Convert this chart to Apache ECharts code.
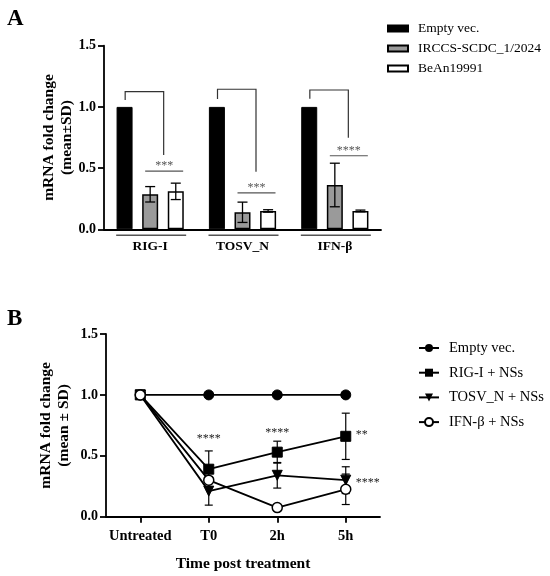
<!DOCTYPE html>
<html><head><meta charset="utf-8">
<script src="https://cdn.jsdelivr.net/npm/echarts@6/dist/echarts.min.js"></script>
<style>html,body{margin:0;padding:0;background:#fff}#c{width:550px;height:576px}</style>
</head><body><div id="c"></div>
<script>
// ---------- Panel A data ----------
const catsA = ['RIG-I', 'TOSV_N', 'IFN-β'];
const namesA = ['Empty vec.', 'IRCCS-SCDC_1/2024', 'BeAn19991'];
const emptyA = [1, 1, 1];
const irccsA = [0.286, 0.139, 0.362];
const irccsSD = [0.063, 0.083, 0.178];
const beanA = [0.31, 0.15, 0.15];
const beanSD = [0.067, 0.01, 0.007];
const bracketTop = [1.124, 1.144, 1.138];
const bracketLeftEnd = [1.056, 1.064, 1.067];
const bracketRightEnd = [0.607, 0.47, 0.748];
const sigLineA = [0.476, 0.297, 0.601];
const sigTextA = ['***', '***', '****'];

// ---------- Panel B data ----------
const catsB = ['Untreated', 'T0', '2h', '5h'];
const namesB = ['Empty vec.', 'RIG-I + NSs', 'TOSV_N + NSs', 'IFN-β + NSs'];
const emptyB = [1, 1, 1, 1];
const rigB = [1, 0.39, 0.53, 0.66];
const rigSD = [0, 0.15, 0.09, 0.19];
const tosvB = [1, 0.21, 0.34, 0.30];
const tosvSD = [0, 0.115, 0.105, 0.11];
const ifnB = [1, 0.30, 0.075, 0.225];
const ifnSD = [0, 0.01, 0.01, 0.125];
const sigCatB = [1, 2, 3, 3];
const sigValB = [0.64, 0.69, 0.67, 0.28];
const sigTextB = ['****', '****', '**', '****'];

const FONT = 'Liberation Serif';
const SUFFIX_B = '\u0000B';
const chart = echarts.init(document.getElementById('c'), null, {renderer: 'canvas'});

const BW = 16, GAP = 9.6;
function errA(vals, sds, k) {
  return {
    type: 'custom', xAxisIndex: 0, yAxisIndex: 0, z: 5, clip: false,
    data: vals.map((v, i) => [i, v, sds[i]]),
    renderItem: function (params, api) {
      const i = api.value(0), m = api.value(1), s = api.value(2);
      const off = (BW + GAP) * k;
      const t = api.coord([i, m + s]), b = api.coord([i, m - s]);
      const x = t[0] + off;
      return {type: 'group', children: [
        {type: 'line', shape: {x1: x, y1: t[1], x2: x, y2: b[1]}, style: {stroke: '#000', lineWidth: 1.3}},
        {type: 'line', shape: {x1: x - 5, y1: t[1], x2: x + 5, y2: t[1]}, style: {stroke: '#000', lineWidth: 1.3}},
        {type: 'line', shape: {x1: x - 5, y1: b[1], x2: x + 5, y2: b[1]}, style: {stroke: '#000', lineWidth: 1.3}}
      ]};
    }
  };
}
function errB(vals, sds) {
  return {
    type: 'custom', xAxisIndex: 1, yAxisIndex: 1, z: 2, clip: false,
    data: vals.map((v, i) => [i, v, sds[i]]),
    renderItem: function (params, api) {
      const i = api.value(0), m = api.value(1), s = api.value(2);
      if (!s) return null;
      const t = api.coord([i, m + s]), b = api.coord([i, m - s]);
      const x = t[0];
      return {type: 'group', children: [
        {type: 'line', shape: {x1: x, y1: t[1], x2: x, y2: b[1]}, style: {stroke: '#000', lineWidth: 1.2}},
        {type: 'line', shape: {x1: x - 4, y1: t[1], x2: x + 4, y2: t[1]}, style: {stroke: '#000', lineWidth: 1.2}},
        {type: 'line', shape: {x1: x - 4, y1: b[1], x2: x + 4, y2: b[1]}, style: {stroke: '#000', lineWidth: 1.2}}
      ]};
    }
  };
}

const axisLine = {show: true, lineStyle: {color: '#000', width: 1.8}};
const tickLbl = {color: '#000', fontFamily: FONT, fontWeight: 'bold', fontSize: 14};
const nameStyle = {fontFamily: FONT, fontWeight: 'bold', fontSize: 15.5, color: '#000', lineHeight: 18};

const option = {
  animation: false,
  backgroundColor: '#fff',
  textStyle: {fontFamily: FONT},
  graphic: [
    {type: 'text', left: 7, top: 8, style: {text: 'A', font: 'bold 23px "Liberation Serif"', fill: '#000'}},
    {type: 'text', left: 7, top: 308, style: {text: 'B', font: 'bold 23px "Liberation Serif"', fill: '#000'}}
  ],
  legend: [
    {
      data: namesA, orient: 'vertical', left: 387, top: 21, padding: 0, itemWidth: 20, itemHeight: 6, itemGap: 5,
      icon: 'rect',
      textStyle: {fontFamily: FONT, fontSize: 13.5, color: '#000', lineHeight: 15, padding: [0, 0, 0, 5]}
    },
    {
      data: namesB.map(n => n + SUFFIX_B), orient: 'vertical', left: 418, top: 340, padding: 0,
      itemWidth: 20, itemHeight: 10, itemGap: 8.7,
      formatter: n => n.replace(SUFFIX_B, ''),
      textStyle: {fontFamily: FONT, fontSize: 14.5, color: '#000', lineHeight: 16, padding: [0, 0, 0, 5]}
    }
  ],
  grid: [
    {left: 104, top: 45.7, width: 277, height: 183.6},
    {left: 106, top: 334, width: 274, height: 182.7}
  ],
  xAxis: [
    {
      type: 'category', gridIndex: 0, data: catsA, axisLine: axisLine, axisTick: {show: false},
      axisLabel: Object.assign({}, tickLbl, {fontSize: 13.5, margin: 10, interval: 0})
    },
    {
      type: 'category', gridIndex: 1, data: catsB, axisLine: axisLine,
      axisTick: {show: true, alignWithLabel: true, interval: 0, length: 6, lineStyle: {width: 1.8, color: '#000'}},
      axisLabel: Object.assign({}, tickLbl, {fontSize: 14.5, margin: 12, interval: 0}),
      name: 'Time post treatment', nameLocation: 'middle', nameGap: 38,
      nameTextStyle: Object.assign({}, nameStyle, {fontSize: 15.5})
    }
  ],
  yAxis: [
    {
      type: 'value', gridIndex: 0, min: 0, max: 1.5, interval: 0.5, splitLine: {show: false},
      axisLine: axisLine, axisTick: {show: true, length: 6, lineStyle: {width: 1.8, color: '#000'}},
      axisLabel: Object.assign({}, tickLbl, {margin: 8, formatter: v => v.toFixed(1)}),
      name: 'mRNA fold change\n(mean±SD)', nameLocation: 'middle', nameGap: 28, nameRotate: 90,
      nameMoveOverlap: false,
      nameTextStyle: nameStyle
    },
    {
      type: 'value', gridIndex: 1, min: 0, max: 1.5, interval: 0.5, splitLine: {show: false},
      axisLine: axisLine, axisTick: {show: true, length: 6, lineStyle: {width: 1.8, color: '#000'}},
      axisLabel: Object.assign({}, tickLbl, {margin: 8, formatter: v => v.toFixed(1)}),
      name: 'mRNA fold change\n(mean ± SD)', nameLocation: 'middle', nameGap: 33, nameRotate: 90,
      nameTextStyle: nameStyle
    }
  ],
  series: [
    {name: namesA[0], type: 'bar', xAxisIndex: 0, yAxisIndex: 0, data: emptyA, barWidth: BW, barGap: (GAP / BW * 100) + '%',
      itemStyle: {color: '#000', borderColor: '#000', borderWidth: 1}},
    {name: namesA[1], type: 'bar', xAxisIndex: 0, yAxisIndex: 0, data: irccsA, barWidth: BW,
      itemStyle: {color: '#9a9a9a', borderColor: '#000', borderWidth: 1.5}},
    {name: namesA[2], type: 'bar', xAxisIndex: 0, yAxisIndex: 0, data: beanA, barWidth: BW,
      itemStyle: {color: '#fff', borderColor: '#000', borderWidth: 1.5}},
    errA(irccsA, irccsSD, 0),
    errA(beanA, beanSD, 1),
    {
      type: 'custom', xAxisIndex: 0, yAxisIndex: 0, z: 6, clip: false,
      data: catsA.map((c, i) => [i, bracketTop[i], bracketLeftEnd[i], bracketRightEnd[i], sigLineA[i]]),
      renderItem: function (params, api) {
        const i = api.value(0);
        const top = api.coord([i, api.value(1)]);
        const cx = top[0];
        const yL = api.coord([i, api.value(2)])[1];
        const yR = api.coord([i, api.value(3)])[1];
        const yS = api.coord([i, api.value(4)])[1];
        const y0 = api.coord([i, 0])[1];
        return {type: 'group', children: [
          {type: 'polyline', shape: {points: [[cx - 25, yL], [cx - 25, top[1]], [cx + 13.5, top[1]], [cx + 13.5, yR]]},
            style: {stroke: '#333', lineWidth: 1.2, fill: null}},
          {type: 'line', shape: {x1: cx - 5, y1: yS, x2: cx + 33, y2: yS}, style: {stroke: '#555', lineWidth: 1.2}},
          {type: 'text', style: {text: sigTextA[i], x: cx + 14, y: yS + 1, textAlign: 'center', textVerticalAlign: 'bottom', verticalAlign: 'bottom',
            fill: '#555', font: '12px "Liberation Serif"'}},
          {type: 'line', shape: {x1: cx - 34, y1: y0 + 6, x2: cx + 36, y2: y0 + 6}, style: {stroke: '#555', lineWidth: 1.5}}
        ]};
      }
    },
    errB(rigB, rigSD),
    errB(tosvB, tosvSD),
    errB(ifnB, ifnSD),
    {name: namesB[0] + SUFFIX_B, type: 'line', xAxisIndex: 1, yAxisIndex: 1, data: emptyB, symbol: 'circle', symbolSize: 10, z: 4,
      lineStyle: {color: '#000', width: 1.8}, itemStyle: {color: '#000', borderColor: '#000'}},
    {name: namesB[1] + SUFFIX_B, type: 'line', xAxisIndex: 1, yAxisIndex: 1, data: rigB, symbol: 'rect', symbolSize: 10, z: 4,
      lineStyle: {color: '#000', width: 1.8}, itemStyle: {color: '#000', borderColor: '#000'}},
    {name: namesB[2] + SUFFIX_B, type: 'line', xAxisIndex: 1, yAxisIndex: 1, data: tosvB, symbol: 'triangle', symbolSize: 10, symbolRotate: 180, z: 4,
      lineStyle: {color: '#000', width: 1.8}, itemStyle: {color: '#000', borderColor: '#000'}},
    {name: namesB[3] + SUFFIX_B, type: 'line', xAxisIndex: 1, yAxisIndex: 1, data: ifnB, symbol: 'circle', symbolSize: 10, z: 4, showAllSymbol: true,
      lineStyle: {color: '#000', width: 1.8}, itemStyle: {color: '#fff', borderColor: '#000', borderWidth: 1.5}},
    {
      type: 'custom', xAxisIndex: 1, yAxisIndex: 1, z: 6, clip: false,
      data: sigCatB.map((c, i) => [c, sigValB[i], i]),
      renderItem: function (params, api) {
        const k = api.value(2);
        const p = api.coord([api.value(0), api.value(1)]);
        const right = api.value(0) === 3;
        return {type: 'text', style: {text: sigTextB[k], x: right ? p[0] + 10 : p[0], y: p[1],
          textAlign: right ? 'left' : 'center', textVerticalAlign: 'middle', verticalAlign: 'middle',
          fill: '#222', font: '12px "Liberation Serif"'}};
      }
    }
  ]
};
chart.setOption(option);
</script></body></html>
